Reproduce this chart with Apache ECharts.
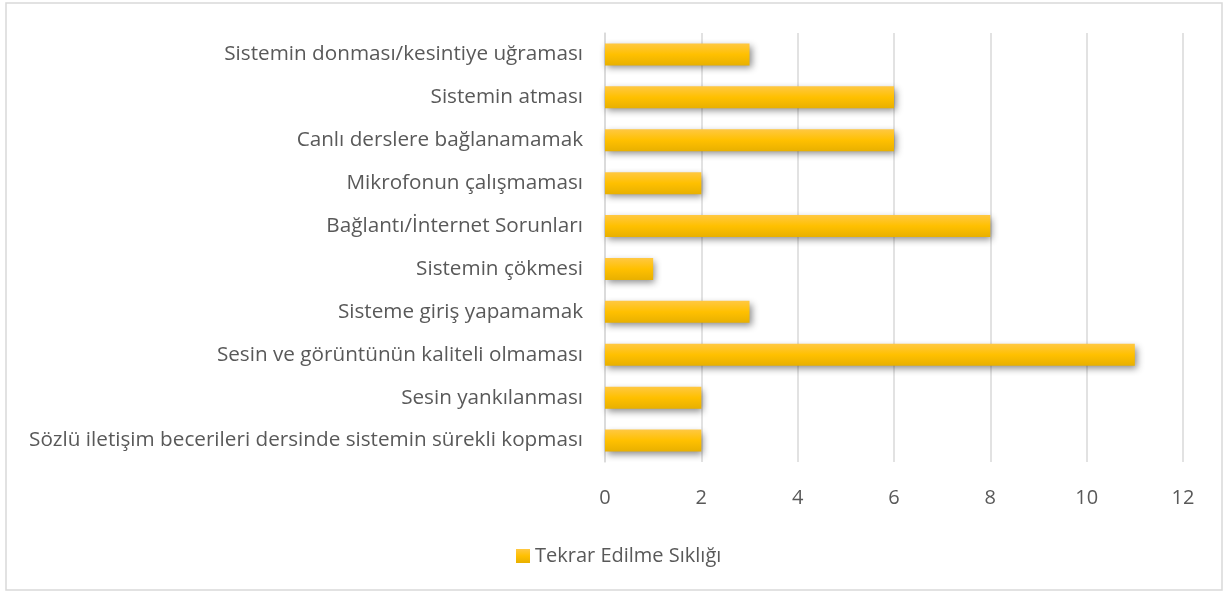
<!DOCTYPE html>
<html>
<head>
<meta charset="utf-8">
<script src="https://cdn.jsdelivr.net/npm/echarts@6/dist/echarts.min.js"></script>
<style>
  html, body { margin: 0; padding: 0; background: #fff; }
  #chart { width: 1228px; height: 594px; }
</style>
</head>
<body>
<div id="chart"></div>
<script>
// kategoriler (alttan üste)
var categories = [
  "Sözlü iletişim becerileri dersinde sistemin sürekli kopması",
  "Sesin yankılanması",
  "Sesin ve görüntünün kaliteli olmaması",
  "Sisteme giriş yapamamak",
  "Sistemin çökmesi",
  "Bağlantı/İnternet Sorunları",
  "Mikrofonun çalışmaması",
  "Canlı derslere bağlanamamak",
  "Sistemin atması",
  "Sistemin donması/kesintiye uğraması"
];
var seriesName = "Tekrar Edilme Sıklığı";
var values = [2, 2, 11, 3, 1, 8, 2, 6, 6, 3];
var xTicks = [0, 2, 4, 6, 8, 10, 12];

var myChart = echarts.init(document.getElementById("chart"));
myChart.setOption({
  animation: false,
  textStyle: { fontFamily: "Open Sans" },
  graphic: [
    {
      type: "rect",
      shape: { x: 6, y: 3, width: 1216, height: 587 },
      style: { fill: "none", stroke: "#d9d9d9", lineWidth: 1.5 }
    }
  ],
  grid: { left: 605, right: 45, top: 33, bottom: 132 },
  legend: {
    left: 511,
    top: 541,
    icon: "rect",
    itemWidth: 14,
    itemHeight: 14,
    itemGap: 5,
    textStyle: { fontSize: 20, color: "#595959" },
    data: [seriesName]
  },
  xAxis: {
    type: "value",
    min: xTicks[0],
    max: xTicks[xTicks.length - 1],
    interval: 2,
    axisLine: { show: false },
    axisTick: { show: false },
    axisLabel: { fontSize: 20, color: "#595959", margin: 26 },
    splitLine: { lineStyle: { color: "#d9d9d9", width: 1.5 } }
  },
  yAxis: {
    type: "category",
    data: categories,
    axisLine: { show: true, lineStyle: { color: "#d9d9d9", width: 1.5 } },
    axisTick: { show: false },
    axisLabel: { fontSize: 20.7, color: "#595959", margin: 22 }
  },
  series: [
    {
      name: seriesName,
      type: "bar",
      data: values,
      barWidth: 22,
      itemStyle: {
        color: {
          type: "linear", x: 0, y: 0, x2: 0, y2: 1,
          colorStops: [
            { offset: 0, color: "#ffc842" },
            { offset: 0.5, color: "#ffc000" },
            { offset: 1, color: "#e8b000" }
          ]
        },
        shadowColor: "rgba(0,0,0,0.45)",
        shadowBlur: 7,
        shadowOffsetX: 2,
        shadowOffsetY: 3
      }
    }
  ]
});
</script>
</body>
</html>
